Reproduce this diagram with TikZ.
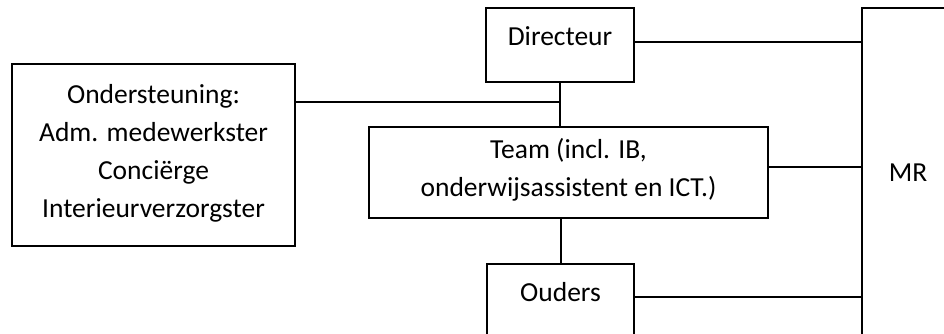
\documentclass[tikz,border=0pt]{standalone}
\usepackage{fontspec}
\setmainfont{Carlito}
\usetikzlibrary{positioning}

\begin{document}
\begin{tikzpicture}[x=1pt, y=-1pt, line width=2pt,
    box/.style={draw, rectangle, anchor=north west, inner sep=0pt},
    lbl/.style={font=\fontsize{27.5}{38}\selectfont, align=center, inner sep=0pt}]

    % Frame of the page
    \clip (0,0) rectangle (944,334);

    % Draw boxes
    \node[box, minimum width=283pt, minimum height=182pt] (steun) at (11,63) {};
    \node[box, minimum width=148pt, minimum height=74pt] (dir) at (485,7) {};
    \node[box, minimum width=399pt, minimum height=91pt] (team) at (368,126) {};
    \node[box, minimum width=147pt, minimum height=80pt] (ouders) at (486,263) {};
    \node[box, minimum width=120pt, minimum height=340pt] (mr) at (861,7) {};

    % Texts
    \node[lbl] (steuntxt) at ([yshift=1.5pt]steun.center)
      {Ondersteuning:\\Adm. medewerkster\\Concië{}rge\\Interieurverzorgster};
    \node[lbl] (dirtxt) at ([yshift=-29pt]dir.north) {Directeur};
    \node[lbl] (teamtxt) at ([yshift=3pt]team.center)
      {Team (incl. IB,\\onderwijsassistent en ICT.)};
    \node[lbl] (ouderstxt) at ([yshift=-29pt]ouders.north) {Ouders};
    \node[lbl] (mrtxt) at (908,173) {MR};

    % Draw connectors
    \coordinate (join) at (dir.south |- 0,102);
    \draw (dir.south) -- (dir.south |- team.north);
    \draw (steun.east |- join) -- (join);
    \draw (ouders.north |- team.south) -- (ouders.north);
    \draw ([yshift=-35pt]dir.north east) -- ([yshift=-35pt]dir.north east -| mr.west);
    \draw ([yshift=5.5pt]team.east) -- ([yshift=5.5pt]team.east -| mr.west);
    \draw ([yshift=-34pt]ouders.north east) -- ([yshift=-34pt]ouders.north east -| mr.west);

\end{tikzpicture}
\end{document}
